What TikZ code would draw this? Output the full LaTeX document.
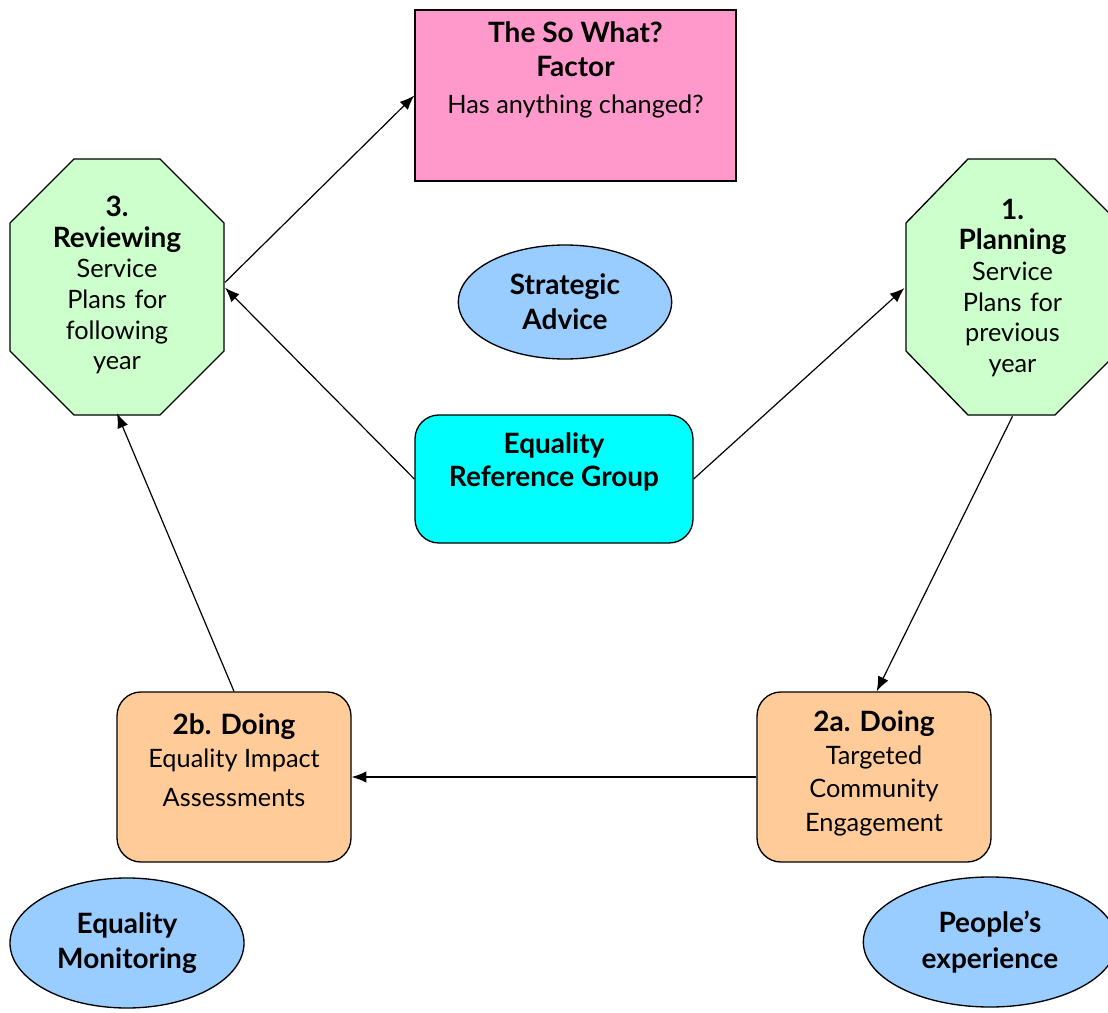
\documentclass[tikz,border=0pt]{standalone}
\usepackage{fontspec}
\setmainfont{Lato}
\usetikzlibrary{arrows.meta,shapes.geometric}
\definecolor{pinkbox}{HTML}{FF99CC}
\definecolor{greenoct}{HTML}{CCFFCC}
\definecolor{blueell}{HTML}{99CCFF}
\definecolor{cyanbox}{HTML}{00FFFF}
\definecolor{peach}{HTML}{FFCC99}
% heading text: bold and a little larger than the body text
\newcommand{\hd}[1]{{\fontsize{21}{23}\selectfont\bfseries #1}}
\tikzset{
  outline/.style={draw=black, line width=1pt},
  octtext/.style={rectangle, minimum width=160.5pt, minimum height=192pt,
    text width=155pt, align=center, font=\fontsize{19}{23}\selectfont},
  roundbox/.style={outline, rectangle, rounded corners=18pt},
  ovalnode/.style={outline, ellipse, fill=blueell, align=center,
    font=\bfseries\fontsize{21}{26.5}\selectfont},
  caption/.style={align=center, font=\fontsize{19}{25}\selectfont},
  arr/.style={-{Latex[length=11pt,width=8.5pt]}, line width=0.9pt},
}
\begin{document}
\begin{tikzpicture}[x=0.75pt,y=-0.75pt]
\useasboundingbox (0,0) rectangle (1108,1013);
\clip (0,0) rectangle (1108,1013);

% octagons for the planning cycle stages
\filldraw[outline, fill=greenoct] (74,159) -- (160,159) -- (224,223) -- (224,351)
  -- (160,415) -- (74,415) -- (10,351) -- (10,223) -- cycle;
\filldraw[outline, fill=greenoct] (968,159) -- (1055,159) -- (1119,223) -- (1119,351)
  -- (1055,415) -- (968,415) -- (906,351) -- (906,223) -- cycle;

\node[octtext] (rev) at (117,285)
  {\hd{3.}\\\hd{Reviewing}\\Service\\Plans for\\following\\year};
\node[octtext] (plan) at (1012.5,288)
  {\hd{1.}\\\hd{Planning}\\Service\\Plans for\\previous\\year};

% outcome box
\node[outline, rectangle, fill=pinkbox, minimum width=240.75pt, minimum height=128.25pt]
  (sowhat) at (575.5,95.5) {};
\node[caption] (sowhatText) at (575.5,70)
  {\hd{The So What?}\\\hd{Factor}\\[3pt]Has anything changed?};

% central group
\node[roundbox, fill=cyanbox, minimum width=208.5pt, minimum height=96pt]
  (erg) at (554,479) {};
\node[caption] (ergText) at (554,462)
  {\hd{Equality}\\\hd{Reference Group}};

% doing boxes
\node[roundbox, fill=peach, minimum width=175.5pt, minimum height=127.5pt]
  (doB) at (234,777) {};
\node[caption] (doBText) at (234,760)
  {\hd{2b. Doing}\\Equality Impact\\[4pt]Assessments};
\node[roundbox, fill=peach, minimum width=175.5pt, minimum height=127.5pt]
  (doA) at (874,777) {};
\node[caption] (doAText) at (874,773)
  {\hd{2a. Doing}\\Targeted\\Community\\Engagement};

% inputs
\node[ovalnode, minimum width=160pt, minimum height=85.5pt] (advice) at (565,302)
  {Strategic\\Advice};
\node[ovalnode, minimum width=175.5pt, minimum height=97.5pt] (monitor) at (127,943)
  {Equality\\Monitoring};
\node[ovalnode, minimum width=190pt, minimum height=97.5pt] (people) at (990,942)
  {People’s\\experience};

% connectors
\draw[arr] ([yshift=2pt]rev.east) -- (sowhat.west);
\draw[arr] (erg.west) -- ([yshift=-2pt]rev.east);
\draw[arr] (erg.east) -- (plan.west);
\draw[arr] (plan.south) -- ([xshift=2pt]doA.north);
\draw[arr] (doA.west) -- (doB.east);
\draw[arr] (doB.north) -- (rev.south);
\end{tikzpicture}
\end{document}
